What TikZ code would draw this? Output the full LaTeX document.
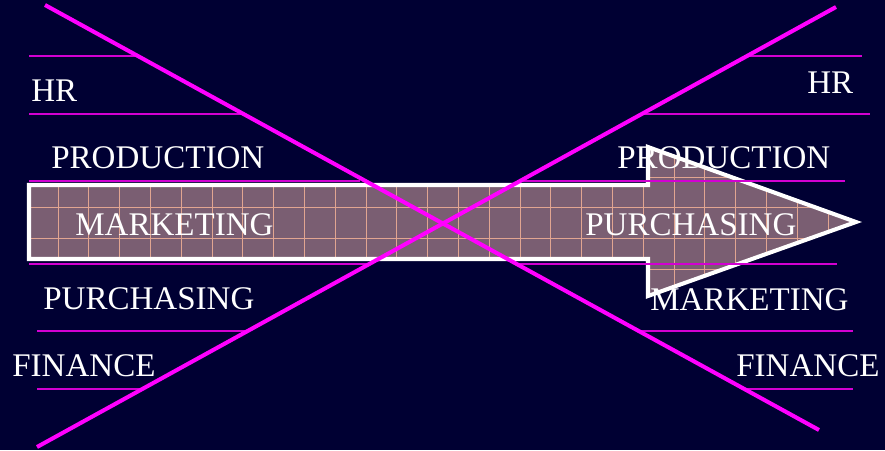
\documentclass[tikz,border=0pt]{standalone}
\usepackage{fontspec}
\setmainfont{Liberation Serif}

\definecolor{bgnavy}{RGB}{0,0,51}
\definecolor{xmagenta}{RGB}{255,0,255}
\definecolor{rulemagenta}{RGB}{210,0,210}
\definecolor{arrowfill}{RGB}{122,94,114}
\definecolor{gridpeach}{RGB}{225,165,145}

\tikzset{
  dept/.style={text=white, inner sep=0pt, anchor=base west, font=\fontsize{18.8}{22}\selectfont},
  rule/.style={rulemagenta, line width=0.9pt},
  cross/.style={xmagenta, line width=2.3pt},
  gridline/.style={gridpeach, line width=0.5pt}
}

\begin{document}
\begin{tikzpicture}[x=0.02cm, y=-0.02cm]
    % Background
    \fill[bgnavy] (0,0) rectangle (885,450);
    \useasboundingbox (0,0) rectangle (885,450);

    % Big arrow
    \fill[arrowfill] (29,185) -- (648,185) -- (648,147) -- (856,222)
        -- (648,296) -- (648,259) -- (29,259) -- cycle;
    \begin{scope}
        \clip (29,185) -- (648,185) -- (648,147) -- (856,222)
            -- (648,296) -- (648,259) -- (29,259) -- cycle;
        \foreach \gx in {0,...,26}
            \draw[gridline] (58+30.8*\gx,140) -- (58+30.8*\gx,305);
        \foreach \gy in {-1,...,3}
            \draw[gridline] (25,177+30.8*\gy) -- (860,177+30.8*\gy);
    \end{scope}
    \draw[white, line width=2.3pt, line join=miter] (29,185) -- (648,185) -- (648,147)
        -- (856,222) -- (648,296) -- (648,259) -- (29,259) -- cycle;

    % Rules, left side
    \draw[rule] (29,56) -- (138,56);
    \draw[rule] (29,114) -- (243,114);
    \draw[rule] (29,181) -- (360,181);
    \draw[rule] (29,264) -- (369,264);
    \draw[rule] (37,331) -- (248,331);
    \draw[rule] (37,389) -- (142,389);

    % Rules, right side
    \draw[rule] (747,56) -- (862,56);
    \draw[rule] (642,114) -- (870,114);
    \draw[rule] (520,181) -- (845,181);
    \draw[rule] (517,264) -- (837,264);
    \draw[rule] (639,331) -- (853,331);
    \draw[rule] (744,389) -- (853,389);

    % Departments, before
    \node[dept] (hrleft) at (31,101) {HR};
    \node[dept] (prodleft) at (51,168) {PRODUCTION};
    \node[dept] (mktleft) at (75,235) {MARKETING};
    \node[dept] (purleft) at (43,309) {PURCHASING};
    \node[dept] (finleft) at (12,376) {FINANCE};

    % Departments, after
    \node[dept] (hrright) at (807,93) {HR};
    \node[dept] (prodright) at (617,168) {PRODUCTION};
    \node[dept] (purright) at (585,235) {PURCHASING};
    \node[dept] (mktright) at (650,310) {MARKETING};
    \node[dept] (finright) at (736,376) {FINANCE};

    % Crossing out
    \draw[cross] (45,5) -- (819,430);
    \draw[cross] (836,7) -- (37,447);
\end{tikzpicture}
\end{document}
